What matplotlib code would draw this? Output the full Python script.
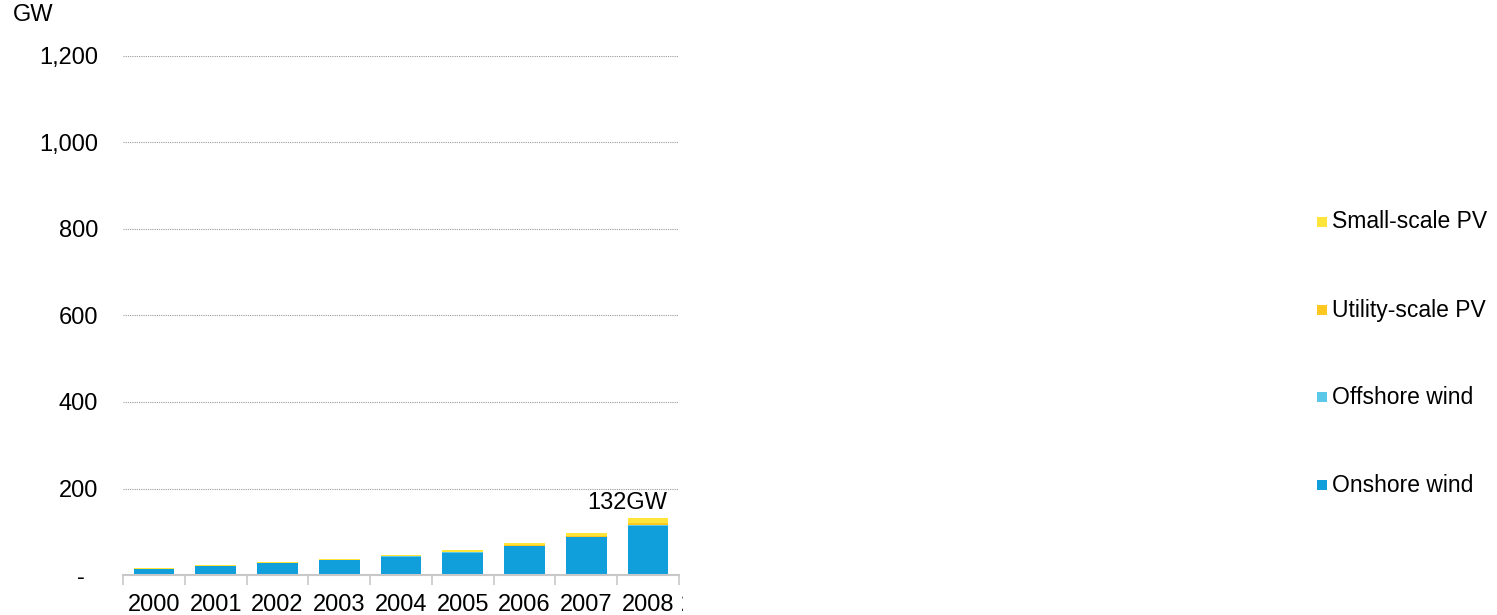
import matplotlib
matplotlib.use("Agg")
import matplotlib.pyplot as plt
from matplotlib.patches import Rectangle
from matplotlib.transforms import Bbox, TransformedBbox
import numpy as np

plt.rcParams['font.family'] = ['Liberation Sans', 'DejaVu Sans']

years = ['2000', '2001', '2002', '2003', '2004', '2005', '2006', '2007', '2008']
next_year = '2009'

# installed capacity, GW
onshore_wind = [14.0, 21.0, 27.5, 34.5, 42.5, 52.0, 67.0, 87.0, 113.5]
offshore_wind = [0.1, 0.1, 0.3, 0.5, 0.6, 0.7, 0.9, 1.1, 1.5]
utility_pv = [0.0, 0.0, 0.0, 0.0, 0.1, 0.3, 0.6, 1.5, 4.5]
small_pv = [1.4, 1.6, 2.0, 2.4, 3.1, 4.9, 5.5, 7.4, 12.5]

series_names = ['Onshore wind', 'Offshore wind', 'Utility-scale PV', 'Small-scale PV']
series_colors = ['#109FDA', '#5BC8E7', '#FFC820', '#FFE53A']
series_values = [onshore_wind, offshore_wind, utility_pv, small_pv]

total_label = '132GW'
y_ticks = [0, 200, 400, 600, 800, 1000, 1200]
y_tick_labels = ['-  ', '200', '400', '600', '800', '1,000', '1,200']

FS = 17
W, H = 1497, 615
fig = plt.figure(figsize=(W / 100, H / 100), dpi=100)
ax = fig.add_axes([123 / W, 40 / H, (679 - 123) / W, (575 - 56) / H])

x = np.arange(len(years))
bottom = np.zeros(len(years))
for name, color, vals in zip(series_names, series_colors, series_values):
    vals = np.array(vals)
    ax.bar(x, vals, width=0.66, bottom=bottom, color=color, linewidth=0, label=name)
    bottom += vals

ax.set_xlim(-0.5, len(years) - 0.5)
ax.set_ylim(0, 1200)

# gridlines
for t in y_ticks[1:]:
    ax.axhline(t, color='#9a9a9a', linewidth=0.8, linestyle=(0, (1, 1)), zorder=0)

for s in ['top', 'right', 'left']:
    ax.spines[s].set_visible(False)
ax.spines['bottom'].set_color('#c8c8c8')
ax.spines['bottom'].set_linewidth(1.5)

ax.set_yticks(y_ticks)
ax.set_yticklabels(y_tick_labels, fontsize=FS)
ax.tick_params(axis='y', length=0, pad=18)

ax.set_xticks(x)
ax.set_xticklabels(years, fontsize=FS)
ax.tick_params(axis='x', which='major', length=0, pad=14)
ax.set_xticks(np.arange(-0.5, len(years)), minor=True)
ax.tick_params(axis='x', which='minor', length=7, width=1.2, color='#c8c8c8')

# next year label, cut at the edge
cut = ax.annotate(next_year, xy=(len(years) - 0.5, 0), xytext=(1, -14),
                  textcoords='offset points', ha='left', va='top', fontsize=FS)
cut.set_clip_box(TransformedBbox(Bbox([[0, 0], [683 / W, 1]]), fig.transFigure))
cut.set_clip_on(True)

ax.annotate(total_label, xy=(len(years) - 1 + 0.3, bottom[-1]), xytext=(0, 6.5),
            textcoords='offset points', ha='right', va='baseline', fontsize=FS)

fig.text(13 / W, 1 - 15 / H, 'GW', fontsize=FS, ha='left', va='center')

# legend, stacked top to bottom in reverse
rows = [485, 397, 310, 222]
for name, color, yrow in zip(series_names, series_colors, rows):
    fig.add_artist(Rectangle((1317 / W, 1 - (yrow + 5) / H), 10 / W, 10 / H,
                             transform=fig.transFigure, color=color, linewidth=0))
    fig.text(1332 / W, 1 - yrow / H, name, fontsize=16.5, ha='left', va='center')

fig.savefig('out.png', dpi=100)
